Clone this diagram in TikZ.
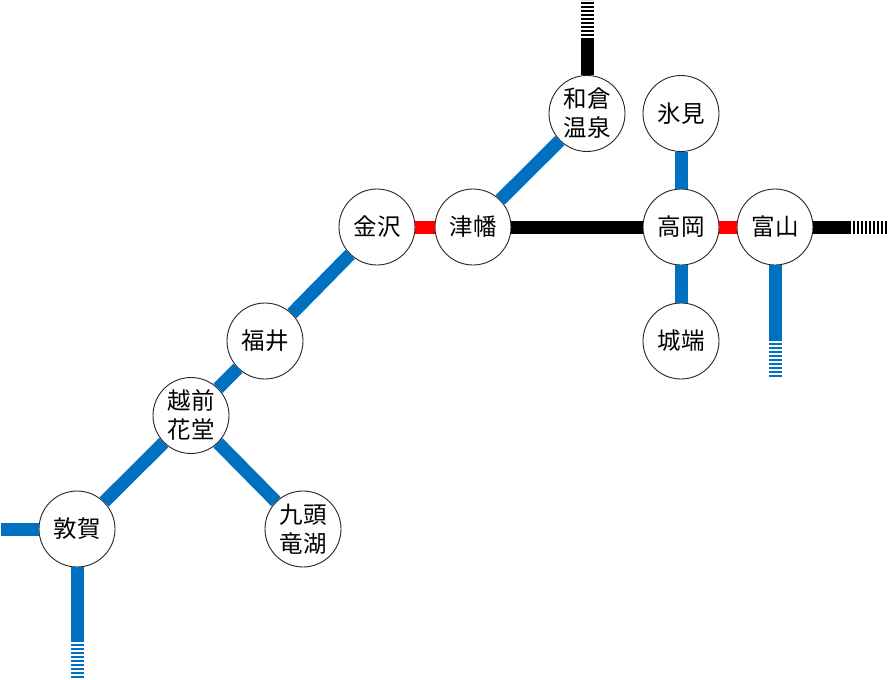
\documentclass[tikz,border=0pt]{standalone}
\usepackage{fontspec}
\setmainfont{Noto Sans CJK JP}
\definecolor{lineblue}{HTML}{0070C0}
\tikzset{
  stn/.style={circle,draw=black!85,line width=0.9pt,fill=white,minimum size=76pt,inner sep=0pt,align=center,
    font=\fontsize{23.5}{29}\selectfont},
  blueline/.style={draw=lineblue,line width=13pt},
  blackline/.style={draw=black,line width=13pt},
  redline/.style={draw=red,line width=13pt},
  stripes/.style={line width=13pt,dash pattern=on 2pt off 2pt,dash phase=2pt},
}
\begin{document}
\begin{tikzpicture}[x=1pt,y=-1pt]
\useasboundingbox (0,0) rectangle (889,680);
\node[stn] (wakura) at (587,113.5) {和倉\\温泉};
\node[stn] (himi) at (681,113.5) {氷見};
\node[stn] (kanazawa) at (377,227) {金沢};
\node[stn] (tsubata) at (473,227) {津幡};
\node[stn] (takaoka) at (681,227) {高岡};
\node[stn] (toyama) at (775,227) {富山};
\node[stn] (fukui) at (265,341) {福井};
\node[stn] (johana) at (681,341) {城端};
\node[stn] (echizen) at (191,415.5) {越前\\花堂};
\node[stn] (tsuruga) at (77,529) {敦賀};
\node[stn] (kuzuryu) at (303,529) {九頭\\竜湖};
\coordinate (nA) at (587,38);
\coordinate (nB) at (587,0);
\coordinate (eA) at (851,227);
\coordinate (eB) at (887,227);
\coordinate (sA) at (775,341);
\coordinate (sB) at (775,378);
\coordinate (wA) at (1,529);
\coordinate (tA) at (77,642);
\coordinate (tB) at (77,679);
\draw[blueline] (kanazawa) -- (fukui);
\draw[blueline] (fukui) -- (echizen);
\draw[blueline] (echizen) -- (tsuruga);
\draw[blueline] (echizen) -- (kuzuryu);
\draw[blueline] (tsubata) -- (wakura);
\draw[blueline] (himi) -- (takaoka);
\draw[blueline] (takaoka) -- (johana);
\draw[redline] (kanazawa) -- (tsubata);
\draw[redline] (takaoka) -- (toyama);
\draw[blackline] (tsubata) -- (takaoka);
\draw[blackline] (wakura) -- (nA);
\draw[blackline] (toyama) -- (eA);
\draw[blueline] (toyama) -- (sA);
\draw[blueline] (tsuruga) -- (wA);
\draw[blueline] (tsuruga) -- (tA);
\draw[black,stripes] (nA) -- (nB);
\draw[black,stripes] (eA) -- (eB);
\draw[lineblue,stripes] (sA) -- (sB);
\draw[lineblue,stripes] (tA) -- (tB);
\end{tikzpicture}
\end{document}
